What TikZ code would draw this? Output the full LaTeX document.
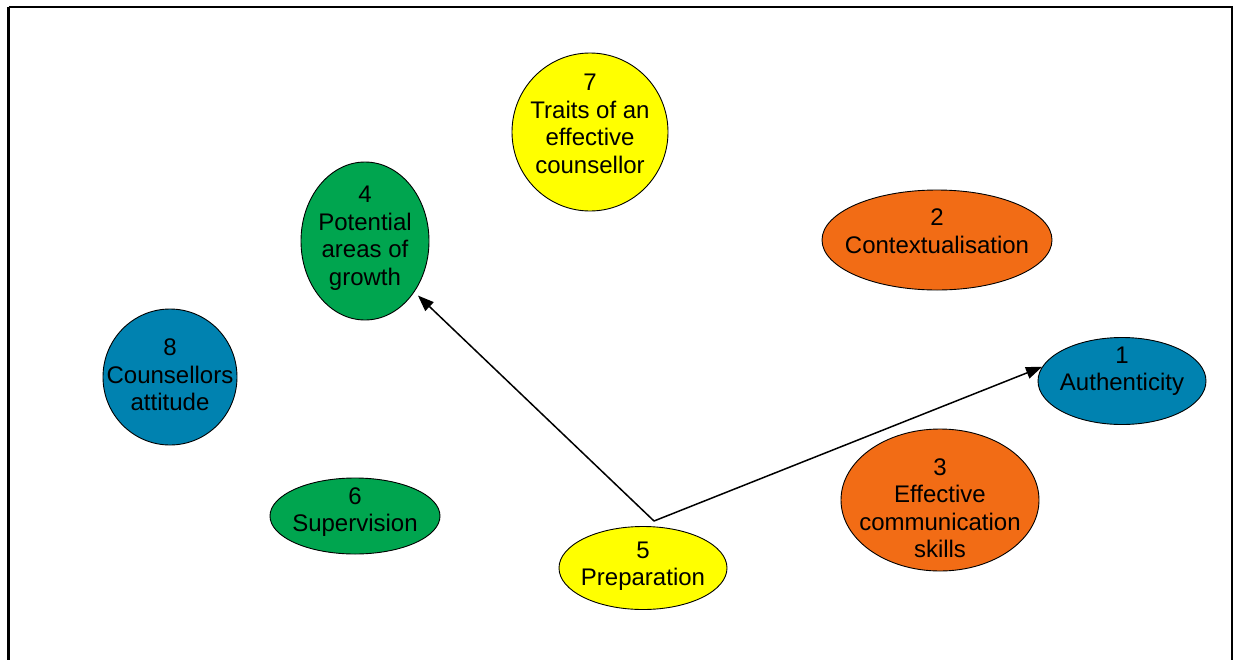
\documentclass[tikz,border=0pt]{standalone}
\usepackage{fontspec}
\setmainfont{Liberation Sans}
\usetikzlibrary{shapes.geometric,arrows.meta}
\definecolor{cyel}{HTML}{FFFF00}
\definecolor{cgrn}{HTML}{00A54F}
\definecolor{cblu}{HTML}{0082B0}
\definecolor{corg}{HTML}{F26C15}
\tikzset{
  blob/.style={ellipse, draw=black, line width=0.9pt, inner sep=0pt},
  lbl/.style={align=center, inner sep=0pt, font=\fontsize{24}{27.5}\selectfont},
  conn/.style={line width=1.5pt, -{Triangle[length=16pt,width=12pt]}}
}
\begin{document}
\begin{tikzpicture}[x=1pt,y=-1pt]
\useasboundingbox (0,0) rectangle (1237,659);
\draw[line width=2.4pt] (8.5,7) -- (1232,7) -- (1232,700);
\draw[line width=2.4pt] (8.5,7) -- (8.5,700);
% ellipses
\node[blob, fill=cyel, minimum width=156pt, minimum height=158pt] (e7) at (590,132) {};
\node[blob, fill=cgrn, minimum width=128pt, minimum height=158pt] (e4) at (365,241) {};
\node[blob, fill=corg, minimum width=230pt, minimum height=100pt] (e2) at (937,240) {};
\node[blob, fill=cblu, minimum width=134pt, minimum height=136pt] (e8) at (170,377) {};
\node[blob, fill=cblu, minimum width=168pt, minimum height=87pt] (e1) at (1122,381) {};
\node[blob, fill=corg, minimum width=198pt, minimum height=142pt] (e3) at (940,500) {};
\node[blob, fill=cgrn, minimum width=170pt, minimum height=76pt] (e6) at (355,516) {};
\node[blob, fill=cyel, minimum width=168pt, minimum height=83pt] (e5) at (643,568) {};
% labels
\node[lbl] (t7) at (590,124) {7\\Traits of an\\effective\\counsellor};
\node[lbl] (t4) at (365,238) {4\\Potential\\areas of\\growth};
\node[lbl] (t2) at (937,231) {2\\Contextualisation};
\node[lbl] (t8) at (170,375) {8\\Counsellors\\attitude};
\node[lbl] (t1) at (1122,371) {1\\Authenticity};
\node[lbl] (t3) at (940,508) {3\\Effective\\communication\\skills};
\node[lbl] (t6) at (355,512) {6\\Supervision};
\node[lbl] (t5) at (643,566) {5\\Preparation};
% connectors
\coordinate (src) at (654,521);
\draw[conn] (src) -- (e1.170);
\draw[conn, shorten >=5pt] (src) -- (e4.-46);
\end{tikzpicture}
\end{document}
